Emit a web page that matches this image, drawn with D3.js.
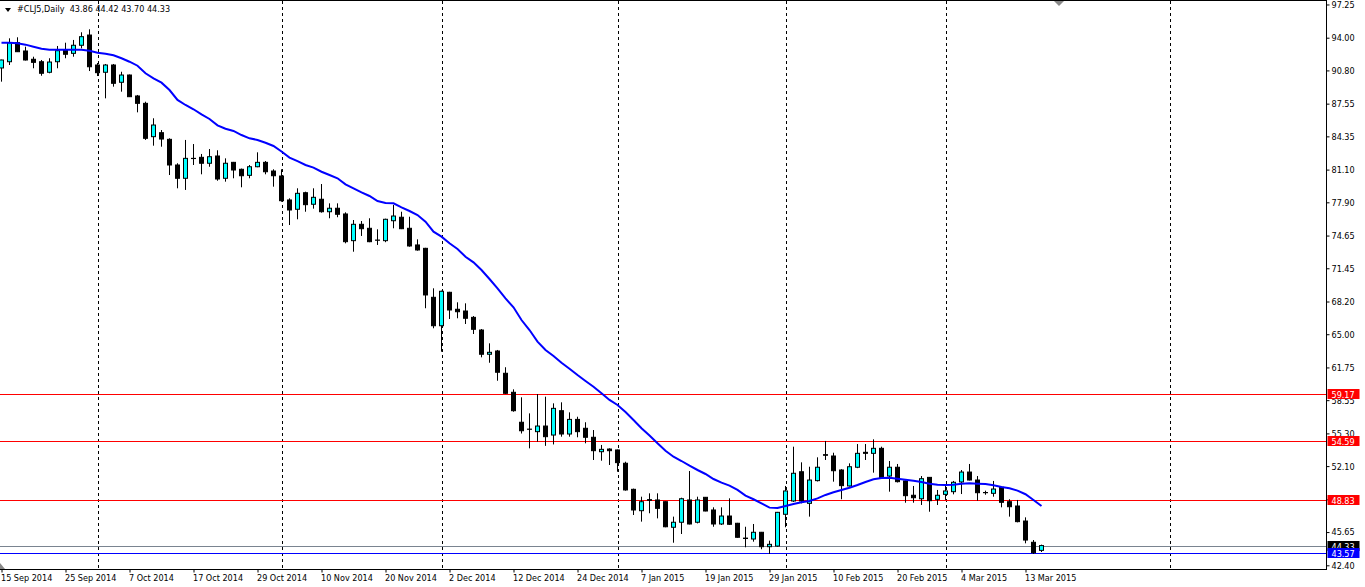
<!DOCTYPE html>
<html><head><meta charset="utf-8">
<script src="https://cdn.jsdelivr.net/npm/d3@7"></script>
<style>
html,body{margin:0;padding:0;background:#fff;}
svg{display:block;}
text{font-family:"DejaVu Sans Condensed","DejaVu Sans","Liberation Sans",sans-serif;font-size:9px;}
</style></head>
<body>
<svg id="c" width="1365" height="587"></svg>
<script>
// ---- data ----
const opens  = [91.04,91.65,93.51,92.70,91.89,91.65,90.62,91.65,92.80,92.47,93.26,94.26,91.33,90.62,91.33,89.64,90.35,88.30,87.58,84.32,
84.71,84.06,81.55,80.25,82.20,82.30,81.72,82.43,80.25,81.81,81.13,80.54,81.38,81.81,80.96,80.47,78.13,77.22,78.84,77.71,
78.20,76.98,77.32,76.76,74.15,75.75,75.36,74.21,74.15,76.10,76.44,75.36,73.73,73.40,68.61,65.83,69.10,67.44,67.27,66.65,
65.41,63.04,63.36,61.18,59.32,56.39,55.72,55.47,56.02,55.14,57.52,55.24,56.67,55.80,54.92,53.51,53.77,53.68,52.38,49.83,
47.74,48.82,48.79,48.62,46.12,46.61,48.79,46.61,49.05,47.81,46.44,47.22,46.51,45.06,44.97,45.63,44.22,44.28,47.39,48.69,
51.55,48.46,50.68,53.22,53.09,51.72,50.16,51.99,53.45,53.35,53.84,51.13,51.99,50.65,49.25,48.91,51.00,48.85,49.34,49.60,
50.55,51.52,50.74,49.52,49.44,50.03,48.62,48.20,46.73,44.65,43.86];
const highs  = [91.85,93.94,94.04,93.12,92.14,91.82,91.99,93.19,93.51,93.78,94.53,94.82,91.53,91.43,91.43,90.67,90.40,88.40,87.74,86.12,
84.97,84.16,81.72,84.00,83.60,82.63,83.11,82.99,82.20,81.85,81.20,81.55,82.79,81.94,81.13,81.13,78.29,79.27,78.94,79.27,
79.69,77.80,77.80,76.92,76.17,76.07,76.34,75.26,76.30,77.64,76.98,76.49,74.28,73.45,69.49,69.26,69.15,68.12,68.02,66.78,
65.51,64.11,63.46,61.77,59.61,58.83,57.26,59.15,58.89,58.24,58.34,57.36,56.93,56.39,55.63,54.17,53.84,53.72,52.53,49.90,
49.11,49.44,49.44,48.65,47.16,49.01,51.62,49.11,49.08,48.07,48.07,48.95,46.55,46.17,46.44,45.66,44.81,47.62,50.16,54.00,
52.47,52.04,52.96,54.56,53.41,51.80,52.37,54.26,54.26,54.72,54.00,52.60,52.31,50.70,50.16,51.13,51.03,49.77,50.26,50.65,
51.72,52.31,51.13,49.70,50.65,50.10,48.86,48.79,47.09,44.87,44.42];
const lows   = [89.70,91.33,92.60,91.77,91.01,90.28,90.52,91.01,91.99,92.14,92.96,90.74,90.25,88.07,89.21,88.72,88.20,86.70,84.00,83.44,
83.34,80.57,79.27,79.11,81.55,80.64,81.38,80.01,79.92,80.25,79.37,80.25,81.33,80.64,79.43,77.96,75.68,76.24,76.98,77.28,
76.89,76.34,76.44,73.89,73.07,74.61,74.00,73.73,74.00,75.36,75.28,73.56,73.17,67.54,65.58,63.29,66.49,66.56,66.00,65.02,
62.74,62.21,60.45,59.15,57.42,55.29,53.84,54.49,54.08,54.22,54.98,54.98,54.92,54.33,52.70,52.63,52.21,51.55,49.70,47.32,
46.67,47.49,46.99,46.12,44.61,45.46,46.40,46.50,47.68,46.17,46.34,46.34,45.10,44.16,44.71,43.97,43.51,44.22,46.12,48.60,
48.46,47.16,50.60,52.70,50.58,48.86,50.10,51.90,52.70,51.46,50.88,49.60,50.50,48.52,48.52,48.30,47.64,48.30,48.79,49.34,
49.37,50.70,48.72,49.30,49.11,48.07,47.16,46.60,44.55,43.51,43.70];
const closes = [91.82,93.51,92.63,91.82,91.59,90.52,91.62,92.73,92.38,93.26,94.10,91.16,90.58,91.33,89.54,90.35,88.23,87.58,84.16,85.46,
84.09,81.55,80.25,82.20,82.18,81.72,82.36,80.18,81.72,81.06,80.50,81.38,81.81,80.89,80.50,78.06,77.15,78.78,77.67,78.39,
76.98,77.32,76.73,74.05,75.75,75.32,74.05,74.19,76.24,76.56,75.32,73.63,73.24,68.84,65.83,69.20,67.37,67.20,66.56,65.48,
63.04,63.23,61.28,59.22,57.52,55.56,55.70,56.02,54.98,57.75,55.24,56.67,55.47,54.92,53.61,53.74,53.61,52.44,49.77,47.81,
48.62,48.76,47.97,46.17,46.61,48.91,46.44,48.79,47.71,46.44,47.22,46.41,45.14,45.02,45.63,44.22,44.45,47.58,49.67,51.40,
48.69,50.74,51.99,53.16,51.65,50.19,52.04,53.35,53.35,53.84,50.91,51.99,50.58,49.21,49.01,50.87,48.72,49.25,49.67,50.52,
51.52,50.74,49.50,49.50,49.86,48.56,48.13,46.67,44.87,43.63,44.33];
const maValues = [93.51,93.51,93.45,93.32,93.12,92.92,92.83,92.83,92.83,92.83,92.83,92.73,92.53,92.44,92.28,91.99,91.65,91.26,90.52,90.03,
89.60,88.88,87.91,87.42,87.00,86.51,86.05,85.43,85.10,84.88,84.48,84.16,84.00,83.73,83.41,82.87,82.28,81.92,81.55,81.29,
80.89,80.57,80.25,79.66,79.27,78.88,78.52,78.03,77.83,77.80,77.41,77.05,76.66,76.00,75.03,74.54,73.89,73.33,72.58,72.03,
71.28,70.40,69.49,68.51,67.63,66.39,65.41,64.27,63.46,62.87,62.21,61.63,61.01,60.43,59.87,59.22,58.57,58.08,57.40,56.61,
55.80,55.10,54.33,53.61,53.02,52.60,52.14,51.72,51.33,50.84,50.48,50.19,49.77,49.21,48.86,48.46,48.04,48.00,48.20,48.40,
48.56,48.69,48.95,49.28,49.54,49.77,49.99,50.25,50.55,50.81,50.94,50.97,50.87,50.77,50.67,50.55,50.38,50.28,50.25,50.28,
50.38,50.42,50.38,50.35,50.22,50.06,49.93,49.70,49.35,48.79,48.20];
const redLevels = [59.17, 54.59, 48.83];
const bidLevel = 44.33;
const blueLevel = 43.57;
const priceTicks = [97.25,94.00,90.80,87.55,84.35,81.10,77.90,74.65,71.45,68.20,65.00,61.75,58.55,55.30,52.10,48.85,45.65,42.40];
const dateTickBars = [0,8,16,24,32,40,48,56,64,72,80,88,96,104,112,120,128];
const dateTickLabels = ["15 Sep 2014","25 Sep 2014","7 Oct 2014","17 Oct 2014","29 Oct 2014","10 Nov 2014","20 Nov 2014","2 Dec 2014",
"12 Dec 2014","24 Dec 2014","7 Jan 2015","19 Jan 2015","29 Jan 2015","10 Feb 2015","20 Feb 2015","4 Mar 2015","13 Mar 2015"];
const separatorBars = [12,35,55,77,98,118,146];
const headerText = "#CLJ5,Daily  43.86 44.42 43.70 44.33";

// ---- layout ----
const svg = d3.select("#c");
const plotRight = 1326.5, plotBottom = 569.5;
const x = d3.scaleLinear().domain([0, 146]).range([1.5, 1169.5]);
const y = d3.scaleLinear().domain([42.40, 94.00]).range([565.3, 37.7]);

// separators
svg.append("g").selectAll("line").data(separatorBars).join("line")
  .attr("x1", d => Math.round(x(d)) + 0.5).attr("x2", d => Math.round(x(d)) + 0.5)
  .attr("y1", 1).attr("y2", plotBottom)
  .attr("stroke", "#000").attr("stroke-width", 1).attr("stroke-dasharray", "3,3");

// horizontal level lines
svg.append("g").selectAll("line").data(redLevels).join("line")
  .attr("x1", 0).attr("x2", plotRight)
  .attr("y1", d => Math.round(y(d)) + 0.5).attr("y2", d => Math.round(y(d)) + 0.5)
  .attr("stroke", "#ff0000").attr("stroke-width", 1);
svg.append("line").attr("x1", 0).attr("x2", plotRight)
  .attr("y1", Math.round(y(bidLevel)) + 0.5).attr("y2", Math.round(y(bidLevel)) + 0.5)
  .attr("stroke", "#7a8490").attr("stroke-width", 1);
svg.append("line").attr("x1", 0).attr("x2", plotRight)
  .attr("y1", Math.round(y(blueLevel)) + 0.5).attr("y2", Math.round(y(blueLevel)) + 0.5)
  .attr("stroke", "#0000ff").attr("stroke-width", 1);

// candles
const idx = d3.range(closes.length);
const cg = svg.append("g");
cg.selectAll("line.wick").data(idx).join("line").attr("class", "wick")
  .attr("x1", i => x(i)).attr("x2", i => x(i))
  .attr("y1", i => y(highs[i])).attr("y2", i => y(lows[i]))
  .attr("stroke", "#000").attr("stroke-width", 1);
cg.selectAll("rect.body").data(idx).join("rect").attr("class", "body")
  .attr("x", i => x(i) - 2).attr("width", 4)
  .attr("y", i => y(Math.max(opens[i], closes[i])))
  .attr("height", i => Math.max(0.01, Math.abs(y(opens[i]) - y(closes[i]))))
  .attr("fill", i => closes[i] > opens[i] ? "#00ffff" : "#000")
  .attr("stroke", "#000").attr("stroke-width", 1);

// moving average
svg.append("path").datum(maValues)
  .attr("d", d3.line().x((d, i) => x(i)).y(d => y(d)))
  .attr("fill", "none").attr("stroke", "#0000ff").attr("stroke-width", 2);

// frame
svg.append("line").attr("x1", 0).attr("x2", plotRight).attr("y1", 0.5).attr("y2", 0.5).attr("stroke", "#000");
svg.append("line").attr("x1", 0).attr("x2", plotRight + 0.5).attr("y1", plotBottom).attr("y2", plotBottom).attr("stroke", "#000");
svg.append("line").attr("x1", plotRight).attr("x2", plotRight).attr("y1", 0).attr("y2", plotBottom).attr("stroke", "#000");

// price axis
const yAxis = d3.axisRight(y).tickValues(priceTicks).tickFormat(d3.format(".2f")).tickSize(3).tickPadding(2);
const ya = svg.append("g").attr("transform", `translate(${plotRight},0)`).call(yAxis);
ya.select(".domain").remove();
ya.selectAll("text").attr("fill", "#000").style("font-size", "9px");
ya.selectAll("line").attr("stroke", "#000");

// date axis
const xAxis = d3.axisBottom(x).tickValues(dateTickBars).tickFormat((d, i) => dateTickLabels[i]).tickSize(3).tickPadding(2);
const xa = svg.append("g").attr("transform", `translate(0,${plotBottom})`).call(xAxis);
xa.select(".domain").remove();
xa.selectAll("text").attr("text-anchor", "start").attr("dx", "-1").attr("fill", "#000").style("font-size", "9px");
xa.selectAll("line").attr("stroke", "#000");

// price labels on the right
const tags = [
  ...redLevels.map(v => ({v, bg: "#ff0000"})),
  {v: bidLevel, bg: "#000"},
  {v: blueLevel, bg: "#0000ff"}
];
const tg = svg.append("g").selectAll("g").data(tags).join("g")
  .attr("transform", d => `translate(${plotRight + 1},${Math.round(y(d.v))})`);
tg.append("rect").attr("x", 0).attr("y", -5).attr("width", 32).attr("height", 10).attr("fill", d => d.bg);
tg.append("text").attr("x", 4).attr("y", 3.5).attr("fill", "#fff").style("font-size", "9px").text(d => d.v.toFixed(2));

// header
svg.append("path").attr("d", "M5,8 L11,8 L8,12 Z").attr("fill", "#000");
svg.append("text").attr("x", 17).attr("y", 12).attr("fill", "#000").style("font-size", "9px").style("white-space", "pre").text(headerText);
// shift markers
svg.append("path").attr("d", "M1054,1 L1064,1 L1059,6 Z").attr("fill", "#888");
svg.append("path").attr("d", "M0,563 L0,569 L5,569 Z").attr("fill", "#888");
</script>
</body></html>
